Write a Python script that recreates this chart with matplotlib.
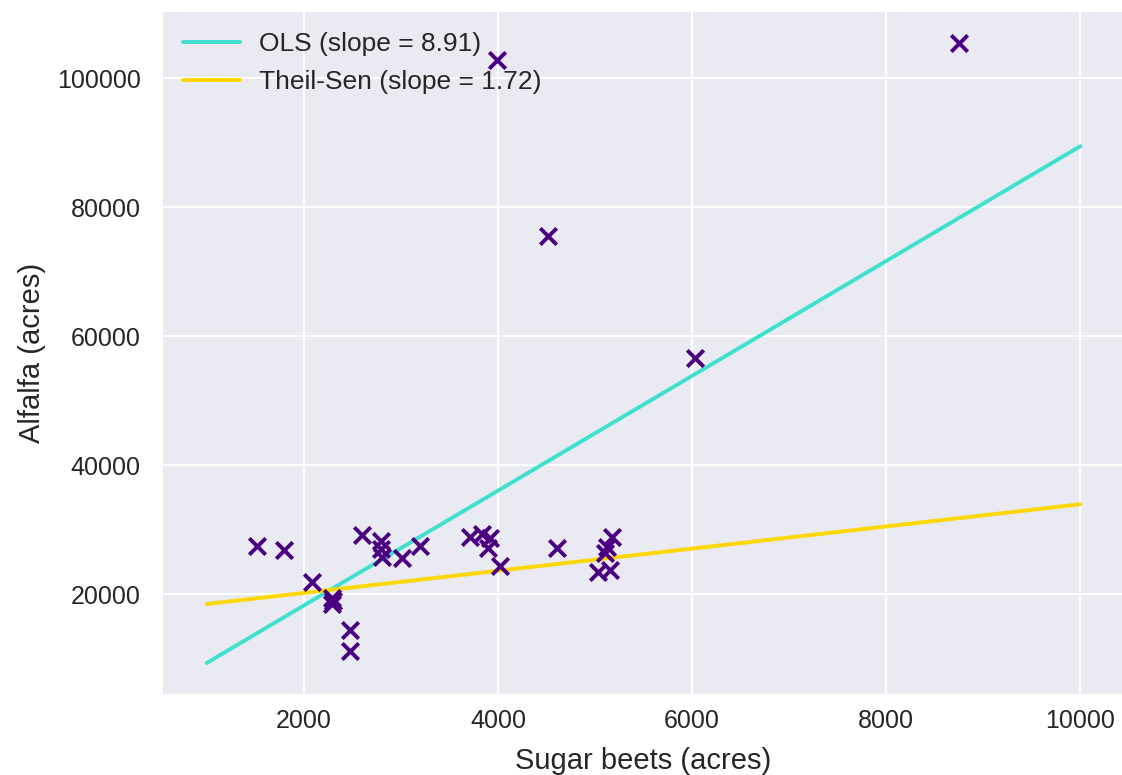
import numpy as np
import matplotlib
matplotlib.use("Agg")
import matplotlib.pyplot as plt
import seaborn as sns

# sugar beets vs alfalfa acreage
beets = [1520, 1800, 2090, 2290, 2300, 2290, 2480, 2480, 2600, 2800,
         2800, 2810, 3010, 3200, 3710, 3840, 3920, 3900, 4020, 3990,
         4520, 4610, 5180, 5120, 5100, 5030, 5150, 6030, 8750]
alfalfa = [27500, 26900, 21900, 19400, 18900, 18500, 14400, 11200, 29100, 28300,
           27000, 25700, 25600, 27400, 28800, 29300, 28700, 27200, 24400, 102900,
           75500, 27100, 28900, 27300, 26300, 23400, 23700, 56700, 105500]

# fitted lines
line_x = [1000, 10000]
ols_slope, ols_intercept = 8.91, 390
ts_slope, ts_intercept = 1.72, 16730

sns.set_style("darkgrid")
plt.rcParams['font.family'] = ['Liberation Sans', 'DejaVu Sans']
plt.rcParams['axes.formatter.useoffset'] = False

fig = plt.figure(figsize=(11.22, 7.75), dpi=100)
ax = fig.add_axes([163 / 1122, 81 / 775, (1124 - 163) / 1122, (694 - 12) / 775])
ax.set_facecolor('#EAEAF2')
ax.grid(color='white', linewidth=1.5)

ax.scatter(beets, alfalfa, marker='x', s=140, linewidths=2.8, color='indigo', zorder=3)

lx = np.array(line_x)
ax.plot(lx, ols_slope * lx + ols_intercept, color='turquoise', lw=2.8,
        label='OLS (slope = %.2f)' % ols_slope, zorder=2)
ax.plot(lx, ts_slope * lx + ts_intercept, color='gold', lw=2.8,
        label='Theil-Sen (slope = %.2f)' % ts_slope, zorder=2)

for s in ax.spines.values():
    s.set_visible(False)
ax.tick_params(axis='both', length=0, labelsize=18, labelcolor='#262626')
ax.tick_params(axis='y', pad=16)
ax.tick_params(axis='x', pad=11)

ax.set_xlabel('Sugar beets (acres)', fontsize=21, color='#262626', labelpad=10)
ax.set_ylabel('Alfalfa (acres)', fontsize=21, color='#262626', labelpad=8)

ax.legend(loc='upper left', fontsize=19, frameon=False, handlelength=2.15,
          handletextpad=0.75, labelspacing=0.55, borderaxespad=0.35)

fig.savefig('out.png', dpi=100)
